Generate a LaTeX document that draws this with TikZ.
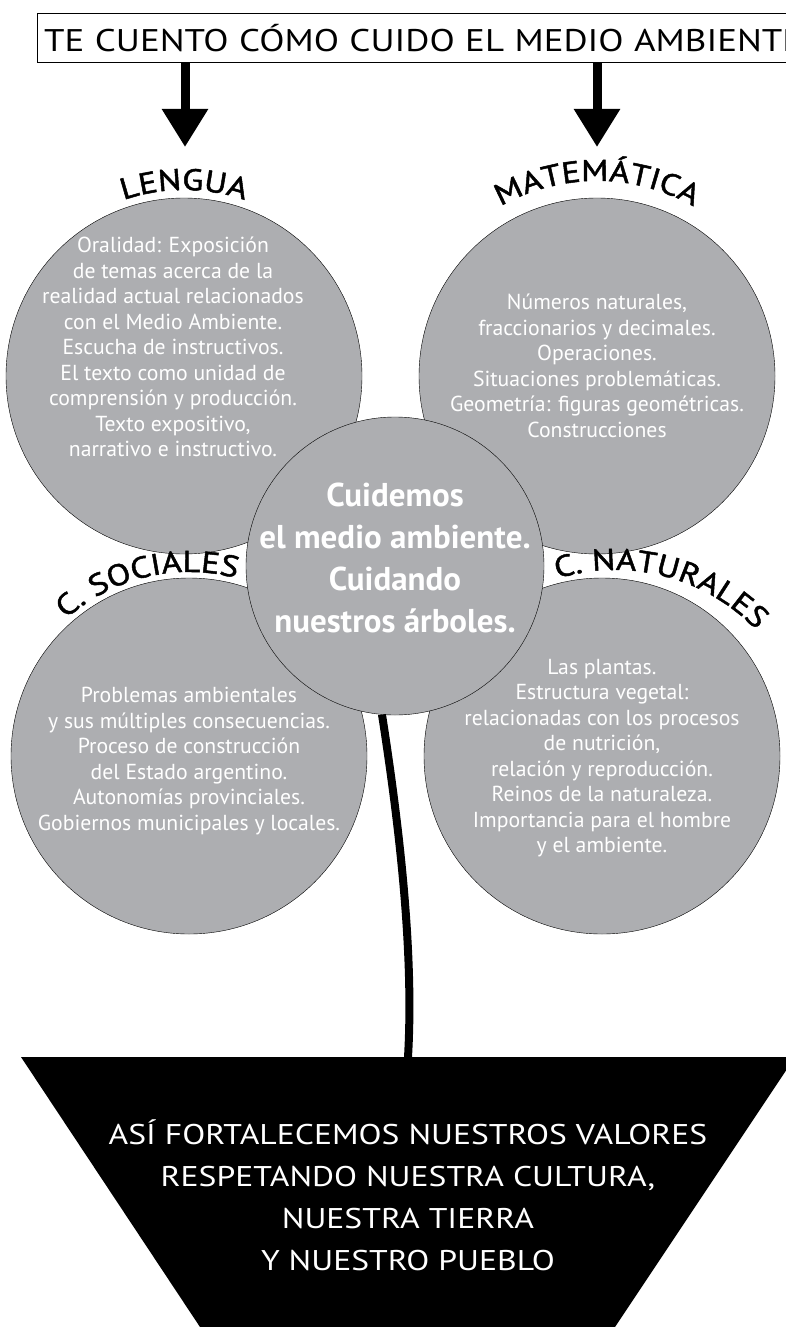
\documentclass[tikz,border=0pt]{standalone}
\usepackage{fontspec}
\setmainfont{PT Sans}
\newfontfamily\ancha[FakeStretch=1.18]{PT Sans}
\newfontfamily\gruesa[FakeStretch=1.15,FakeBold=1.6]{PT Sans}
\usetikzlibrary{arrows.meta,decorations.text}

\definecolor{gris}{RGB}{173,174,177}
\newcommand{\rotulo}{\gruesa\fontsize{30}{30}\selectfont}

\begin{document}
\begin{tikzpicture}[x=1pt,y=1pt,node distance=413pt]
  \tikzstyle{tema}=[circle,draw,fill=gris,minimum size=356pt,inner sep=0pt]
  \tikzstyle{contenido}=[text=white,align=center,font=\fontsize{21.7}{25.5}\selectfont]
  \tikzstyle{flecha}=[-{Triangle[width=44pt,length=38pt]},line width=9pt]
  \tikzstyle{curvo}=[decorate,decoration={text along path,text align=center}]

  \useasboundingbox (0,0) rectangle (786,-1327);

  \node[draw,anchor=north west,text width=770pt,minimum height=49pt,inner xsep=7pt,
        font=\ancha\fontsize{31.3}{31.3}\selectfont] (titulo) at (37,-13)
        {TE CUENTO CÓMO CUIDO EL MEDIO AMBIENTE};

  \coordinate (puntaL) at (185,-147);
  \coordinate (puntaM) at (597,-147);
  \draw[flecha] (titulo.south -| puntaL) -- (puntaL);
  \draw[flecha] (titulo.south -| puntaM) -- (puntaM);

  \node[tema] (lengua) at (184,-376) {};
  \node[tema] (matematica) [right of=lengua] {};
  \node[tema] (sociales) [below of=lengua,node distance=380pt,xshift=5pt] {};
  \node[tema] (naturales) [right of=sociales] {};
  \node[tema,minimum size=298pt] (centro) at (395,-566) {};

  \node[contenido,xshift=-11pt,yshift=29pt] (lenguaTxt) at (lengua)
    {Oralidad: Exposición\\de temas acerca de la\\realidad actual relacionados\\con el Medio Ambiente.\\Escucha de instructivos.\\El texto como unidad de\\comprensión y producción.\\Texto expositivo,\\narrativo e instructivo.};
  \node[contenido,yshift=10pt] (matematicaTxt) at (matematica)
    {Números naturales,\\fraccionarios y decimales.\\Operaciones.\\Situaciones problemáticas.\\Geometría: figuras geométricas.\\Construcciones};
  \node[contenido,yshift=-5pt] (socialesTxt) at (sociales)
    {Problemas ambientales\\y sus múltiples consecuencias.\\Proceso de construcción\\del Estado argentino.\\Autonomías provinciales.\\Gobiernos municipales y locales.};
  \node[contenido,yshift=-2pt] (naturalesTxt) at (naturales)
    {Las plantas.\\Estructura vegetal:\\relacionadas con los procesos\\de nutrición,\\relación y reproducción.\\Reinos de la naturaleza.\\Importancia para el hombre\\y el ambiente.};
  \node[contenido,yshift=8pt,font=\bfseries\fontsize{33}{42}\selectfont] (centroTxt) at (centro)
    {Cuidemos\\el medio ambiente.\\Cuidando\\nuestros árboles.};

  \coordinate (ejeN) at ([shift={(13,-10)}]naturales.center);
  \path[curvo,decoration={text={|\rotulo|LENGUA}}]
    ([shift={(150:186)}]lengua.center) arc[start angle=150,end angle=30,radius=186];
  \path[curvo,decoration={text={|\rotulo|MATEMÁTICA}}]
    ([shift={(150:195)}]matematica.center) arc[start angle=150,end angle=30,radius=195];
  \path[curvo,decoration={text={|\rotulo|C. SOCIALES}}]
    ([shift={(148:184)}]sociales.center) arc[start angle=148,end angle=59,radius=184];
  \path[curvo,decoration={text={|\rotulo|C. NATURALES}}]
    ([shift={(120:196)}]ejeN) arc[start angle=120,end angle=31,radius=196];

  \coordinate (copa) at (408,-1057);
  \draw[line width=8pt] (centro.265) .. controls (400,-830) and (414,-955) .. (copa);

  \fill (21,-1057) -- (795,-1057) -- (615,-1327) -- (200,-1327) -- cycle;
  \node[text=white,align=center,font=\ancha\fontsize{28.5}{42}\selectfont] (valores) at (408,-1195)
    {ASÍ FORTALECEMOS NUESTROS VALORES\\RESPETANDO NUESTRA CULTURA,\\NUESTRA TIERRA\\Y NUESTRO PUEBLO};
\end{tikzpicture}
\end{document}
